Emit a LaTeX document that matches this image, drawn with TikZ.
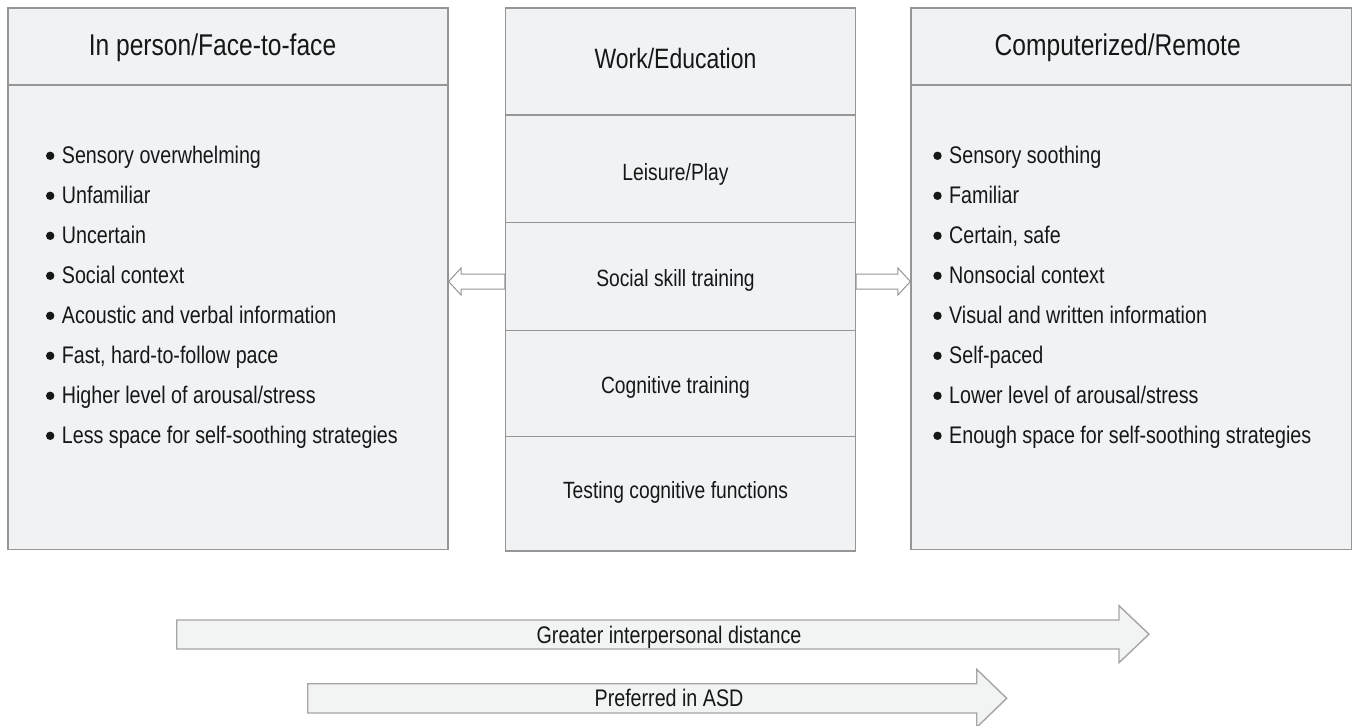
\documentclass[tikz,border=0pt]{standalone}
\usepackage{fontspec}
\setmainfont{Liberation Sans}[FakeStretch=0.82]
\usetikzlibrary{calc}
\definecolor{boxfill}{RGB}{241,242,244}
\definecolor{edgegray}{RGB}{150,150,150}
\definecolor{ink}{RGB}{22,24,24}
\definecolor{arrowfill}{RGB}{242,243,243}
\definecolor{arrowedge}{RGB}{165,165,165}
\begin{document}
\begin{tikzpicture}[x=1pt,y=-1pt,
  panel/.style={draw=edgegray, fill=boxfill, line width=1.2pt, inner sep=0pt, minimum width=#1},
  sepline/.style={draw=edgegray, line width=1.2pt},
  hdr/.style={text=ink, inner sep=0pt, anchor=base, font=\fontsize{30}{34}\selectfont},
  midhdr/.style={text=ink, inner sep=0pt, anchor=base, font=\fontsize{28}{32}\selectfont},
  rowtxt/.style={text=ink, inner sep=0pt, anchor=base, font=\fontsize{23.5}{28}\selectfont},
  item/.style={text=ink, inner sep=0pt, anchor=base west, font=\fontsize{24}{28}\selectfont},
  dot/.style={circle, fill=ink, inner sep=0pt, minimum size=8.4pt},
  hollow/.style={draw=edgegray, fill=white, line width=1pt, line join=miter},
  bigarrow/.style={draw=arrowedge, fill=arrowfill, line width=1.4pt, line join=miter},
  arrtxt/.style={text=ink, inner sep=0pt, anchor=base, font=\fontsize{24}{28}\selectfont}
]
\useasboundingbox (0,0) rectangle (1353,726);

% boxes
\node[panel=440pt, minimum height=541.5pt] (L) at (228,278.75) {};
\node[panel=350pt, minimum height=543pt] (C) at (680.5,279.5) {};
\node[panel=440.5pt, minimum height=541.5pt] (R) at (1131.25,278.75) {};

% header separators
\draw[sepline] (L.west |- 0,85) -- (L.east |- 0,85);
\draw[sepline] (R.west |- 0,85) -- (R.east |- 0,85);
\foreach \yy in {115,222.7,330.5,436.5}
  \draw[sepline] (C.west |- 0,\yy) -- (C.east |- 0,\yy);

% headers
\node[hdr] (Lh) at (212.5,55) {In person/Face-to-face};
\node[hdr] (Rh) at (1117.7,55) {Computerized/Remote};
\node[midhdr] (Ch) at (675.5,68.3) {Work/Education};

% center rows
\node[rowtxt] (c1) at (675.5,180) {Leisure/Play};
\node[rowtxt] (c2) at (675.5,286.7) {Social skill training};
\node[rowtxt] (c3) at (675.5,393.3) {Cognitive training};
\node[rowtxt] (c4) at (675.5,498.3) {Testing cognitive functions};

% left items
\node[item] (l1) at (61.7,163) {Sensory overwhelming};
\node[item] (l2) at (61.7,203) {Unfamiliar};
\node[item] (l3) at (61.7,243) {Uncertain};
\node[item] (l4) at (61.7,283) {Social context};
\node[item] (l5) at (61.7,323) {Acoustic and verbal information};
\node[item] (l6) at (61.7,363) {Fast, hard-to-follow pace};
\node[item] (l7) at (61.7,403) {Higher level of arousal/stress};
\node[item] (l8) at (61.7,443) {Less space for self-soothing strategies};

% right items
\node[item] (r1) at (949,163) {Sensory soothing};
\node[item] (r2) at (949,203) {Familiar};
\node[item] (r3) at (949,243) {Certain, safe};
\node[item] (r4) at (949,283) {Nonsocial context};
\node[item] (r5) at (949,323) {Visual and written information};
\node[item] (r6) at (949,363) {Self-paced};
\node[item] (r7) at (949,403) {Lower level of arousal/stress};
\node[item] (r8) at (949,443) {Enough space for self-soothing strategies};

% bullets
\foreach \n in {l1,l2,l3,l4,l5,l6,l7,l8,r1,r2,r3,r4,r5,r6,r7,r8}
  \node[dot] (b\n) at ($(\n.base west)+(-11.5,-7.2)$) {};

% hollow arrows between boxes
\coordinate (al) at (L.east |- 0,281.5);
\coordinate (ac) at (C.west |- 0,281.5);
\draw[hollow] (al) -- ($(al)+(12.5,-13.5)$) -- ($(al)+(12.5,-7.5)$) -- ($(ac)+(0,-7.5)$)
  -- ($(ac)+(0,7.5)$) -- ($(al)+(12.5,7.5)$) -- ($(al)+(12.5,13.5)$) -- cycle;
\coordinate (ar) at (R.west |- 0,281.5);
\coordinate (cr) at (C.east |- 0,281.5);
\draw[hollow] (ar) -- ($(ar)+(-12.5,-13.5)$) -- ($(ar)+(-12.5,-7.5)$) -- ($(cr)+(0,-7.5)$)
  -- ($(cr)+(0,7.5)$) -- ($(ar)+(-12.5,7.5)$) -- ($(ar)+(-12.5,13.5)$) -- cycle;

% bottom arrows
\draw[bigarrow] (176.7,620) -- (1119,620) -- (1119,605.7) -- (1149,634.2) -- (1119,662.7)
  -- (1119,649) -- (176.7,649) -- cycle;
\node[arrtxt] (t1) at (669,643.3) {Greater interpersonal distance};
\draw[bigarrow] (307.7,683.7) -- (976.7,683.7) -- (976.7,669.3) -- (1006.7,698.3) -- (976.7,727.3)
  -- (976.7,713) -- (307.7,713) -- cycle;
\node[arrtxt] (t2) at (669,706.7) {Preferred in ASD};
\end{tikzpicture}
\end{document}
